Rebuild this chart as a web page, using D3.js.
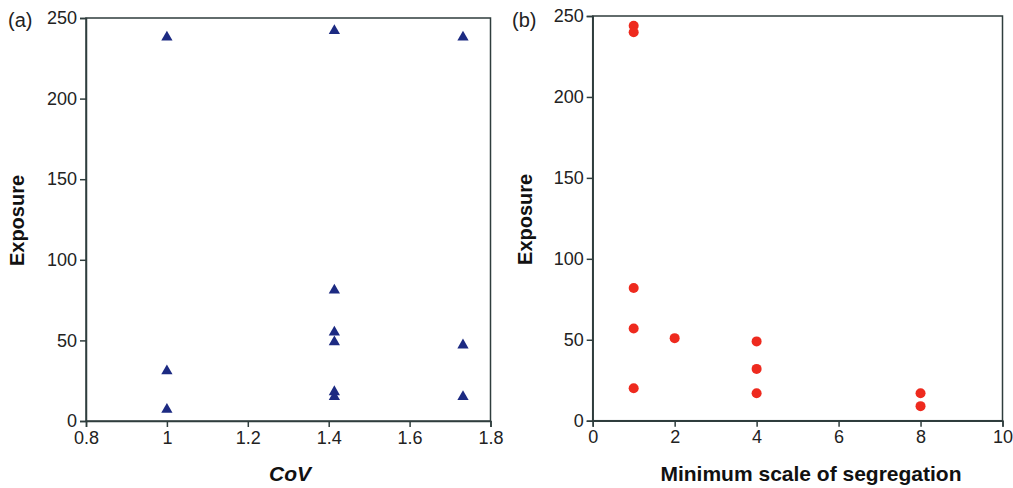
<!DOCTYPE html>
<html>
<head>
<meta charset="utf-8">
<script src="https://cdn.jsdelivr.net/npm/d3@7"></script>
<style>
  body { margin: 0; background: #fff; }
  svg { display: block; font-family: "Liberation Sans", Arial, sans-serif; }
</style>
</head>
<body>
<svg id="chart" width="1013" height="488"></svg>
<script>
// Panel (a): Exposure vs CoV
const covX = [1, 1, 1, 1.414, 1.414, 1.414, 1.414, 1.414, 1.414, 1.732, 1.732, 1.732];
const covY = [239, 32, 8, 243, 82, 56, 50, 19, 16, 239, 48, 16];
// Panel (b): Exposure vs Minimum scale of segregation
const segX = [1, 1, 1, 1, 1, 2, 4, 4, 4, 8, 8];
const segY = [244, 240, 82, 57, 20, 51, 49, 32, 17, 17, 9];

const yTicks = [0, 50, 100, 150, 200, 250];
const covTicks = [0.8, 1, 1.2, 1.4, 1.6, 1.8];
const segTicks = [0, 2, 4, 6, 8, 10];

const svg = d3.select("#chart");
const frame = "#2f3d3d";

function panel(opts) {
  const g = svg.append("g");
  const x = d3.scaleLinear().domain(opts.xDomain).range([opts.left, opts.right]);
  const y = d3.scaleLinear().domain([0, 250]).range([opts.bottom, opts.top]);

  g.append("rect")
    .attr("x", opts.left).attr("y", opts.top)
    .attr("width", opts.right - opts.left).attr("height", opts.bottom - opts.top)
    .attr("fill", "none").attr("stroke", frame).attr("stroke-width", 1.5);

  const yAxis = g.append("g").attr("transform", `translate(${opts.left},0)`)
    .call(d3.axisLeft(y).tickValues(yTicks).tickSize(6).tickPadding(3).tickFormat(d3.format("d")));
  const xAxis = g.append("g").attr("transform", `translate(0,${opts.bottom})`)
    .call(d3.axisBottom(x).tickValues(opts.xTicks).tickSize(6).tickPadding(4).tickFormat(opts.fmt));
  [yAxis, xAxis].forEach(a => {
    a.select(".domain").attr("stroke", frame).attr("stroke-width", 1.5);
    a.selectAll(".tick line").attr("stroke", frame).attr("stroke-width", 1.5);
    a.selectAll(".tick text").attr("fill", "#222").style("font-size", "18px")
      .style("font-family", "'Liberation Sans', Arial, sans-serif");
  });

  g.append("text").attr("x", opts.letterX).attr("y", 27)
    .attr("fill", "#222").style("font-size", "20px").text(opts.letter);

  g.append("text")
    .attr("transform", `translate(${opts.yLabelX},${(opts.top + opts.bottom) / 2 + 1}) rotate(-90)`)
    .attr("text-anchor", "middle").attr("fill", "#111")
    .style("font-size", "20px").style("font-weight", "bold").text("Exposure");

  g.append("text")
    .attr("x", opts.xLabelX).attr("y", 481)
    .attr("text-anchor", "middle").attr("fill", "#111")
    .style("font-size", "21px").style("font-weight", "bold")
    .style("font-style", opts.italic ? "italic" : "normal")
    .text(opts.xLabel);

  return { g, x, y };
}

const pa = panel({
  left: 86, right: 490.5, top: 18, bottom: 421,
  xDomain: [0.8, 1.8], xTicks: covTicks,
  fmt: d => d3.format("")(+d.toFixed(1)),
  letter: "(a)", letterX: 8, yLabelX: 24,
  xLabel: "CoV", xLabelX: 290, italic: true
});
const triangle = d3.symbol().type(d3.symbolTriangle).size(55);
pa.g.append("g").selectAll("path").data(covX).join("path")
  .attr("d", triangle)
  .attr("transform", (d, i) => `translate(${pa.x(d)},${pa.y(covY[i]) + 1.5})`)
  .attr("fill", "#1c2a82");

const pb = panel({
  left: 592.7, right: 1002.5, top: 16, bottom: 420.7,
  xDomain: [0, 10], xTicks: segTicks,
  fmt: d3.format("d"),
  letter: "(b)", letterX: 512, yLabelX: 532,
  xLabel: "Minimum scale of segregation", xLabelX: 811, italic: false
});
pb.g.append("g").selectAll("circle").data(segX).join("circle")
  .attr("cx", d => pb.x(d))
  .attr("cy", (d, i) => pb.y(segY[i]))
  .attr("r", 5)
  .attr("fill", "#ee2a1e");
</script>
</body>
</html>
